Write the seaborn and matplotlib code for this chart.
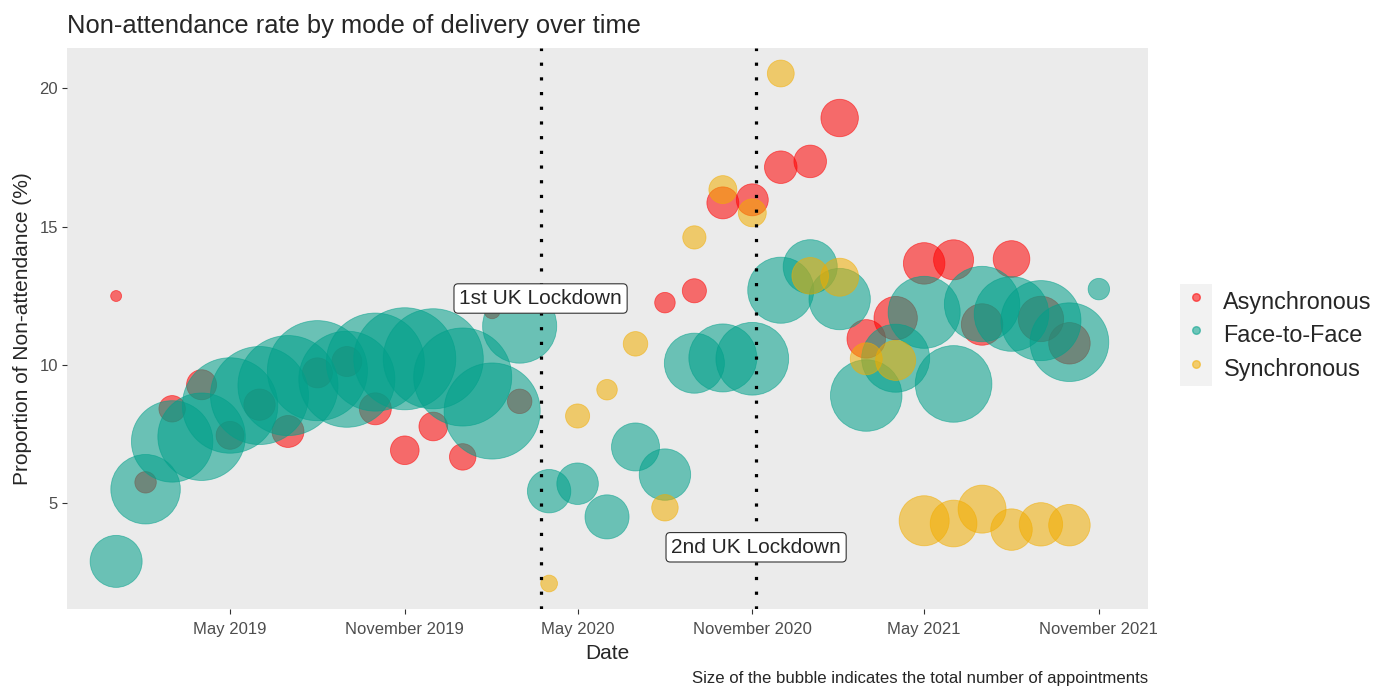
import pandas as pd
import numpy as np
import matplotlib
matplotlib.use('Agg')
from matplotlib import pyplot as plt
from matplotlib import dates as mdates
from matplotlib.lines import Line2D
from matplotlib.patches import Rectangle
from matplotlib.legend_handler import HandlerTuple
import seaborn as sns

# DATA (monthly)
async_months = pd.date_range('2019-01-01', '2020-03-01', freq='MS').append(
    pd.date_range('2020-08-01', '2021-10-01', freq='MS'))
async_rate = [12.49, 5.75, 8.41, 9.28, 7.45, 8.56, 7.59, 9.71, 10.12, 8.41, 6.91, 7.77, 6.67, 11.96, 8.68,
              12.25, 12.68, 15.86, 15.97, 17.15, 17.36, 18.93, 10.94, 11.69, 13.67, 13.80, 11.46, 13.83, 11.66, 10.78]
async_appts = [600, 2300, 3500, 4500, 3900, 4900, 5100, 4500, 4500, 5100, 4100, 4100, 3500, 1300, 3000,
               2100, 2900, 5100, 5100, 5300, 5300, 7000, 7400, 9400, 8600, 8000, 8600, 6700, 10300, 8600]

f2f_months = pd.date_range('2019-01-01', '2021-11-01', freq='MS')
f2f_rate = [2.89, 5.50, 7.23, 7.40, 8.53, 8.89, 9.25, 9.79, 9.48, 10.10, 10.22, 10.22,
            9.56, 8.33, 11.40, 5.43, 5.70, 4.50, 7.03, 6.03, 10.06, 10.25, 10.22, 12.70,
            13.55, 12.38, 8.89, 10.24, 11.90, 9.31, 12.20, 11.84, 11.60, 10.82, 12.74]
f2f_appts = [13500, 24100, 33100, 38200, 45500, 48000, 50000, 50000, 46100, 48000, 52000, 50000,
             48000, 46100, 27400, 9400, 8600, 9700, 11500, 13200, 18000, 23100, 26400, 21800,
             14600, 18800, 25500, 23100, 25900, 29300, 28400, 27800, 32000, 30900, 2300]

sync_months = pd.date_range('2020-04-01', '2021-10-01', freq='MS')
sync_rate = [2.09, 8.15, 9.10, 10.76, 4.83, 14.61, 16.34, 15.50, 20.54, 13.22, 13.17, 10.22, 10.16,
             4.36, 4.26, 4.78, 4.04, 4.23, 4.20]
sync_appts = [1400, 2900, 2100, 3000, 3500, 2700, 3900, 3900, 3600, 6700, 7200, 5100, 8000,
              12500, 10900, 11500, 8600, 9400, 8600]

modes = ['Asynchronous', 'Face-to-Face', 'Synchronous']
mode_colors = ['#FF0000', '#00A08A', '#F2AD00']
lockdowns = [pd.Timestamp('2020-03-23'), pd.Timestamp('2020-11-05')]
lockdown_labels = ['1st UK Lockdown', '2nd UK Lockdown']
lockdown_label_y = [12.4, 3.4]
############################

df = pd.concat([
    pd.DataFrame({'Date': async_months, 'Rate': async_rate, 'Appointments': async_appts, 'Mode': modes[0]}),
    pd.DataFrame({'Date': f2f_months, 'Rate': f2f_rate, 'Appointments': f2f_appts, 'Mode': modes[1]}),
    pd.DataFrame({'Date': sync_months, 'Rate': sync_rate, 'Appointments': sync_appts, 'Mode': modes[2]}),
], ignore_index=True)

sns.set_theme(style='dark')
plt.rcParams['font.family'] = ['Liberation Sans', 'DejaVu Sans']

fig = plt.figure(figsize=(13.73, 6.88), dpi=100)
ax = fig.add_axes([67/1373, 1-609/688, (1148-67)/1373, (609-48)/688])
ax.set_facecolor('#EBEBEB')

# bubble area proportional to appointments
sns.scatterplot(data=df, x='Date', y='Rate', hue='Mode', hue_order=modes,
                palette=dict(zip(modes, mode_colors)), size='Appointments',
                sizes=(0, 5400), size_norm=(0, df['Appointments'].max()),
                alpha=0.55, edgecolor='face', linewidth=0.6, legend=False, ax=ax, zorder=2)

for d, lab, yl in zip(lockdowns, lockdown_labels, lockdown_label_y):
    ax.axvline(d, color='black', linestyle=(0, (1, 3.6)), linewidth=2.3, zorder=3)
    ax.text(d, yl, lab, ha='center', va='center', fontsize=15, zorder=4,
            bbox=dict(boxstyle='round,pad=0.25,rounding_size=0.2', fc='white', ec='#333333', lw=0.8))

# ggplot style 5% expansion
xmin, xmax = df['Date'].min(), df['Date'].max()
xpad = (xmax - xmin) * 0.05
ax.set_xlim(xmin - xpad, xmax + xpad)
ypad = (df['Rate'].max() - df['Rate'].min()) * 0.05
ax.set_ylim(df['Rate'].min() - ypad, df['Rate'].max() + ypad)

ax.xaxis.set_major_locator(mdates.MonthLocator(bymonth=[5, 11]))
ax.xaxis.set_major_formatter(mdates.DateFormatter('%B %Y'))
ax.set_yticks([5, 10, 15, 20])
ax.grid(False)
for s in ax.spines.values():
    s.set_visible(False)
ax.tick_params(axis='both', length=3.5, width=0.8, color='#333333', labelcolor='#4D4D4D',
               labelsize=12, bottom=True, left=True)
ax.tick_params(axis='x', pad=6)
ax.tick_params(axis='y', pad=3)

ax.set_xlabel('Date', fontsize=15, labelpad=5)
ax.set_ylabel('Proportion of Non-attendance (%)', fontsize=15, labelpad=5)

fig.text(67/1373, 1-33/688, 'Non-attendance rate by mode of delivery over time',
         fontsize=18.4, ha='left', va='baseline')
fig.text(1148/1373, 1-679/688, 'Size of the bubble indicates the total number of appointments',
         fontsize=12.1, ha='right', va='center')

# legend with grey key background like ggplot
handles = [(Rectangle((0, 0), 1, 1, fc='#F2F2F2', ec='none'),
            Line2D([], [], marker='o', linestyle='', markersize=5.5, color=c, alpha=0.55))
           for c in mode_colors]
fig.legend(handles, modes, handler_map={tuple: HandlerTuple(ndivide=1)},
           loc='center left', bbox_to_anchor=(1180/1373, 1-335/688), frameon=False,
           fontsize=16.8, labelspacing=0, handlelength=1.36, handleheight=1.85,
           handletextpad=0.5, borderpad=0, borderaxespad=0)

plt.savefig('out.png', dpi=100)
